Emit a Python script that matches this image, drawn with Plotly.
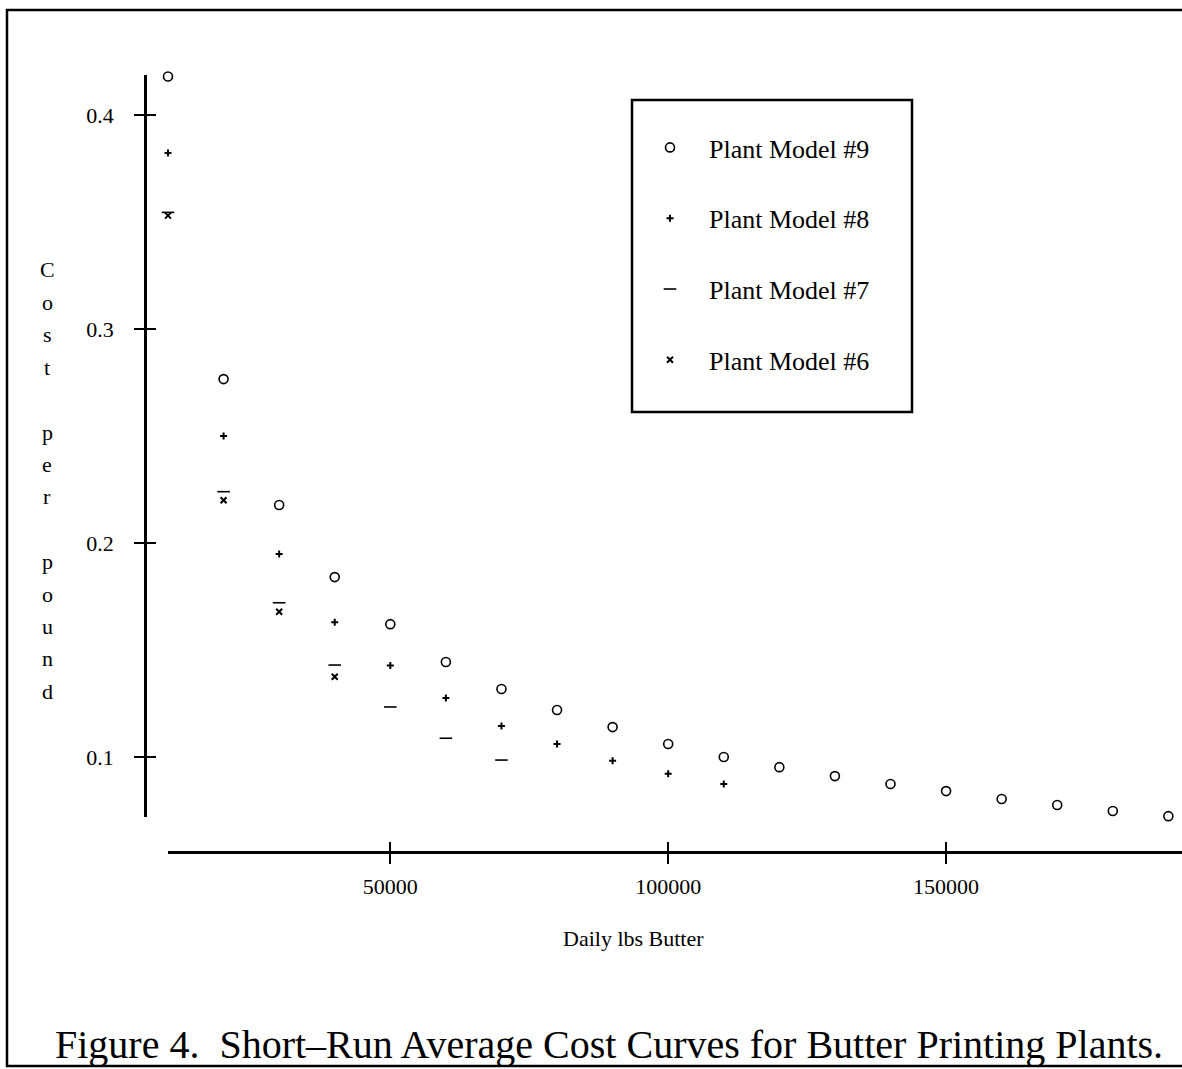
import plotly.graph_objects as go

# ---- data ----
output_lbs = [10000, 20000, 30000, 40000, 50000, 60000, 70000, 80000, 90000, 100000,
              110000, 120000, 130000, 140000, 150000, 160000, 170000, 180000, 190000]
model9 = [0.418, 0.2766, 0.2178, 0.1841, 0.1621, 0.1444, 0.1318, 0.1220, 0.1140, 0.1061,
          0.1000, 0.0953, 0.0911, 0.0874, 0.0841, 0.0804, 0.0776, 0.0748, 0.0724]
model8 = [0.3822, 0.2500, 0.1949, 0.1630, 0.1428, 0.1276, 0.1145, 0.1061, 0.0983, 0.0922, 0.0874]
model7 = [0.3545, 0.2240, 0.1721, 0.1430, 0.1234, 0.1088, 0.0986]
model6 = [0.3530, 0.2200, 0.1679, 0.1375]

series_names = ["Plant Model #9", "Plant Model #8", "Plant Model #7", "Plant Model #6"]
x_ticks = [50000, 100000, 150000]
y_ticks = [0.1, 0.2, 0.3, 0.4]
x_title = "Daily lbs Butter"
y_title_letters = ["C", "o", "s", "t", "", "p", "e", "r", "", "p", "o", "u", "n", "d"]
caption = "Figure 4.  Short\u2013Run Average Cost Curves for Butter Printing Plants."

W, H = 1182, 1069
FONT = "Liberation Serif, Times New Roman, serif"

def px(v):
    return v / W

def py(v):
    return 1 - v / H

x_range = [10000, 192450]
y_range = [0.0720, 0.41869]
x_domain = [px(168), 1.0]
y_domain = [py(817), py(75)]

fig = go.Figure()

styles = [
    dict(symbol="circle-open", size=9, line=dict(width=1.6, color="black")),
    dict(symbol="cross-thin-open", size=5, line=dict(width=2, color="black")),
    dict(symbol="line-ew-open", size=9, line=dict(width=1.6, color="black")),
    dict(symbol="x-thin-open", size=6, line=dict(width=2, color="black")),
]
all_y = [model9, model8, model7, model6]
for name, ys, st in zip(series_names, all_y, styles):
    fig.add_trace(go.Scatter(
        x=output_lbs[:len(ys)], y=ys, mode="markers", name=name,
        marker=dict(color="black", **st), cliponaxis=False,
        legendgroup=name,
    ))

# empty trace to carry the overlay axes (inside half of crossing ticks)
fig.add_trace(go.Scatter(x=[], y=[], xaxis="x2", yaxis="y2", showlegend=False))

axis_common = dict(showgrid=False, zeroline=False, linecolor="black", linewidth=2.5,
                   tickcolor="black", tickwidth=2, ticklen=10,
                   tickfont=dict(family=FONT, size=22, color="black"))

fig.update_layout(
    width=W, height=H,
    margin=dict(l=0, r=0, t=0, b=0),
    paper_bgcolor="white", plot_bgcolor="white",
    font=dict(family=FONT, color="black"),
    showlegend=True,
    xaxis=dict(domain=x_domain, range=x_range, anchor="free", position=py(852),
               showline=True, ticks="outside", tickvals=x_ticks,
               ticktext=[str(v) for v in x_ticks], ticklabelstandoff=4, **axis_common),
    yaxis=dict(domain=y_domain, range=y_range, anchor="free", position=px(145),
               showline=True, ticks="outside", tickvals=y_ticks,
               ticktext=[str(v) for v in y_ticks], ticklabelstandoff=16, **axis_common),
    xaxis2=dict(domain=x_domain, range=x_range, anchor="free", position=py(852),
                overlaying="x", showline=False, ticks="inside", tickvals=x_ticks,
                showticklabels=False, **axis_common),
    yaxis2=dict(domain=y_domain, range=y_range, anchor="free", position=px(145),
                overlaying="y", side="left", showline=False, ticks="inside",
                tickvals=y_ticks, showticklabels=False, **axis_common),
    legend=dict(x=px(631), y=py(124), xanchor="left", yanchor="top",
                bgcolor="rgba(0,0,0,0)", borderwidth=0,
                font=dict(family=FONT, size=26, color="black"),
                itemwidth=68,
                tracegroupgap=34, itemclick=False, itemdoubleclick=False),
)

shapes = [
    # outer figure frame
    dict(type="rect", xref="paper", yref="paper", x0=px(7), x1=1.02, y0=py(1066), y1=py(10),
         line=dict(color="black", width=2.5), fillcolor="rgba(0,0,0,0)", layer="below"),
    # legend box
    dict(type="rect", xref="paper", yref="paper", x0=px(632), x1=px(912), y0=py(412), y1=py(100),
         line=dict(color="black", width=2.5), fillcolor="rgba(0,0,0,0)", layer="below"),
]
fig.update_layout(shapes=shapes)

annotations = [
    dict(text=x_title, xref="paper", yref="paper", x=px(633), y=py(938),
         xanchor="center", yanchor="middle", showarrow=False,
         font=dict(family=FONT, size=22, color="black")),
    dict(text=caption, xref="paper", yref="paper", x=px(53), y=py(1044),
         xanchor="left", yanchor="middle", showarrow=False,
         font=dict(family=FONT, size=40, color="black")),
]
# vertical, letter-by-letter y-axis title
for i, ch in enumerate(y_title_letters):
    if not ch:
        continue
    annotations.append(dict(text=ch, xref="paper", yref="paper", x=px(47), y=py(270 + 32.4 * i),
                            xanchor="center", yanchor="middle", showarrow=False,
                            font=dict(family=FONT, size=22, color="black")))
fig.update_layout(annotations=annotations)

fig.write_html("out.html", config=dict(displayModeBar=False),
               post_script="document.body.style.margin='0';document.body.style.overflow='hidden';")
